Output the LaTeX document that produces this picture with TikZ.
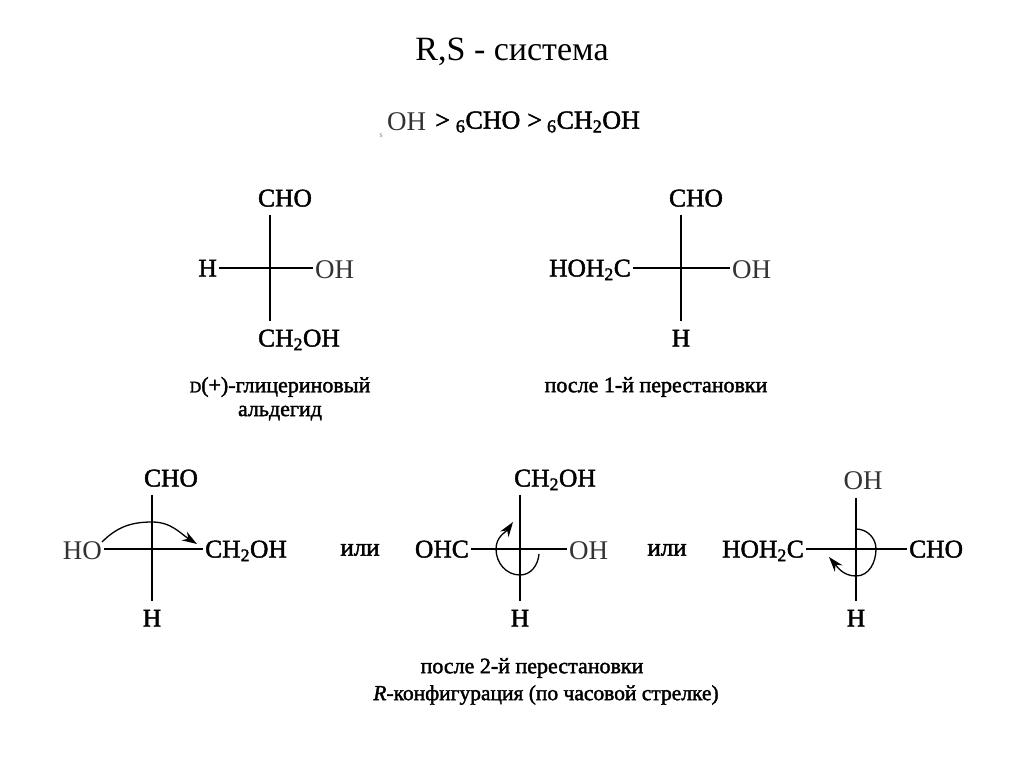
\documentclass[tikz,border=0pt]{standalone}
\usepackage{fontspec}
\setmainfont{Liberation Serif}
\newfontfamily\inkfont[FakeBold=1.8]{Liberation Serif}
\usetikzlibrary{arrows.meta}
\tikzset{
	atom/.style={inner ysep=8pt, inner xsep=2pt, text height=17pt, text depth=0pt, font=\fontsize{25.5}{28}\inkfont},
	thinatom/.style={atom, text=black!80, yshift=-2pt, font=\fontsize{27}{28}\selectfont},
	word/.style={font=\fontsize{22}{26}\inkfont},
	orword/.style={font=\fontsize{25}{28}\inkfont},
	bond/.style={line width=2.4pt},
	turn/.style={line width=1.3pt, -{Stealth[length=15pt,width=10pt]}},
}
\newcommand{\chhoh}{CH\textsubscript{2}OH}
\newcommand{\hohhc}{HOH\textsubscript{2}C}
\begin{document}
\begin{tikzpicture}[x=1pt, y=1pt]
	\useasboundingbox (0,-767) rectangle (1024,0);
	\fill[white] (0,-767) rectangle (1024,0);

	\node[font=\fontsize{34}{38}\selectfont] (title) at (512,-52) {R,S - система};
	\node[anchor=west, font=\fontsize{8}{8}\selectfont, text=gray] (speck) at (376,-136) {s};
	\node[anchor=west, inner sep=0pt, text=black!80, font=\fontsize{27}{28}\selectfont] (oh) at (387,-122) {OH};
	\node[anchor=west, inner sep=0pt, font=\fontsize{26}{28}\inkfont] (rank) at (435,-122) {>\hspace{6pt}\textsubscript{6}CHO\hspace{7pt}>\hspace{5pt}\textsubscript{6}\chhoh};

	% first row
	\coordinate (c1) at (270,-268);
	\node[atom] (t1) at (285,-198) {CHO};
	\node[atom] (b1) at (299,-338) {\chhoh};
	\node[atom, anchor=east] (l1) at (219,-268) {H};
	\node[thinatom, anchor=west] (r1) at (313,-268) {OH};
	\draw[bond] (c1 |- t1.south) -- (c1 |- b1.north);
	\draw[bond] (l1.east) -- (r1.west |- c1);
	\node[word] (n1) at (280,-387) {{\fontsize{16}{26}\inkfont D}(+)-глицериновый};
	\node[word] (n1b) at (280,-413) {альдегид};

	\coordinate (c2) at (681,-268);
	\node[atom] (t2) at (696,-198) {CHO};
	\node[atom] (b2) at (681,-338) {H};
	\node[atom, anchor=east] (l2) at (633,-268) {\hohhc};
	\node[thinatom, anchor=west] (r2) at (730,-268) {OH};
	\draw[bond] (c2 |- t2.south) -- (c2 |- b2.north);
	\draw[bond] (l2.east) -- (r2.west |- c2);
	\node[word] (n2) at (656,-387) {после 1-й перестановки};

	% second row
	\coordinate (c3) at (152,-548);
	\node[atom] (t3) at (171,-478) {CHO};
	\node[atom] (b3) at (152,-618) {H};
	\node[thinatom, anchor=east] (l3) at (104,-549) {HO};
	\node[atom, anchor=west] (r3) at (203,-549) {\chhoh};
	\draw[bond] (c3 |- t3.south) -- (c3 |- b3.north);
	\draw[bond] (l3.east |- r3) -- (r3.west);
	\coordinate (s3) at (102,-542);
	\coordinate (p3) at (152,-522);
	\coordinate (e3) at (197,-544);
	\draw[turn] (s3) to[out=45,in=180] (p3) to[out=0,in=148] (e3);
	\node[orword] (or1) at (360,-550) {или};

	\coordinate (c4) at (520,-548);
	\node[atom] (t4) at (555,-478) {\chhoh};
	\node[atom] (b4) at (520,-618) {H};
	\node[atom, anchor=east] (l4) at (471,-549) {OHC};
	\node[thinatom, anchor=west] (r4) at (567,-549) {OH};
	\draw[bond] (c4 |- t4.south) -- (c4 |- b4.north);
	\draw[bond] (l4.east) -- (r4.west |- l4);
	\coordinate (s4) at (539,-554);
	\coordinate (u4) at (520,-575);
	\coordinate (w4) at (496,-549);
	\coordinate (e4) at (513,-522);
	\draw[turn] (s4) to[out=-95,in=0] (u4) to[out=180,in=-90] (w4) to[out=90,in=-125] (e4);
	\node[orword] (or2) at (667,-550) {или};

	\coordinate (c5) at (856,-549);
	\node[thinatom] (t5) at (863,-479) {OH};
	\node[atom] (b5) at (856,-618) {H};
	\node[atom, anchor=east] (l5) at (806,-549) {\hohhc};
	\node[atom, anchor=west] (r5) at (907,-549) {CHO};
	\draw[bond] (c5 |- t5.south) -- (c5 |- b5.north);
	\draw[bond] (l5.east) -- (r5.west);
	\coordinate (s5) at (856,-529);
	\coordinate (v5) at (876,-549);
	\coordinate (u5) at (856,-576);
	\coordinate (e5) at (829,-557);
	\draw[turn] (s5) to[out=0,in=90] (v5) to[out=-90,in=0] (u5) to[out=180,in=-50] (e5);

	\node[word] (n3) at (532,-668) {после 2-й перестановки};
	\node[word, font=\fontsize{21.5}{26}\inkfont] (n3b) at (546,-695) {\textit{R}-конфигурация (по часовой стрелке)};
\end{tikzpicture}
\end{document}
